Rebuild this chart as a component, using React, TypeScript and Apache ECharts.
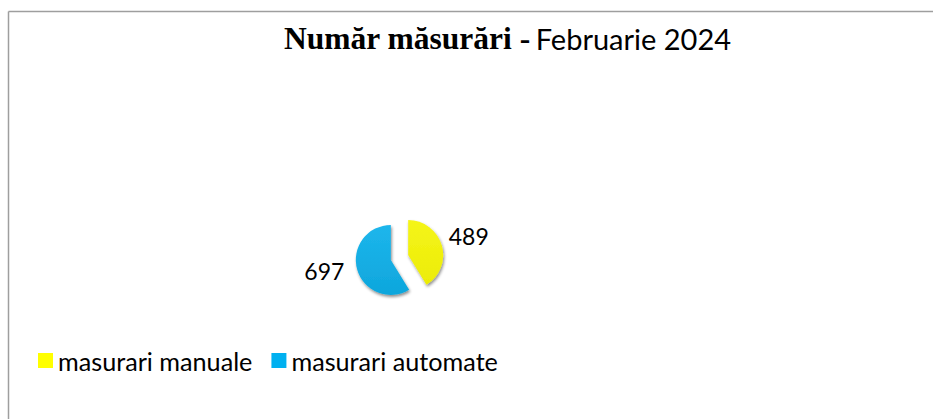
import React, { useEffect, useRef } from "react";
import * as echarts from "echarts";

const categories = ["masurari manuale", "masurari automate"];
const values = [489, 697];
const legendColors = ["#FFFF00", "#00B0F0"];
const titleBold = "Număr măsurări -";
const titleRest = "Februarie 2024";

export default function App() {
  const ref = useRef<HTMLDivElement>(null);
  useEffect(() => {
    if (!ref.current) return;
    const chart = echarts.init(ref.current, null, { renderer: "svg" });
    const gradients = [
      new echarts.graphic.LinearGradient(0, 0, 0, 1, [
        { offset: 0, color: "#F5F51A" },
        { offset: 1, color: "#ECEC05" },
      ]),
      new echarts.graphic.LinearGradient(0, 0, 0, 1, [
        { offset: 0, color: "#1DB6EC" },
        { offset: 1, color: "#0EA6DC" },
      ]),
    ];
    const labelFix = [
      { label: { formatter: "{c}\n", lineHeight: 17 }, labelLine: { length: 2, length2: 0 } },
      { label: {}, labelLine: {} },
    ];
    chart.setOption({
      animation: false,
      backgroundColor: "#ffffff",
      title: {
        left: 284,
        top: 22,
        padding: 0,
        text: `{a|${titleBold}} {b|${titleRest}}`,
        textStyle: {
          rich: {
            a: {
              fontFamily: "Liberation Serif",
              fontWeight: "bold",
              fontSize: 31.5,
              color: "#000",
            },
            b: {
              fontFamily: "Lato",
              fontWeight: "normal",
              fontSize: 29,
              color: "#000",
            },
          },
        },
      },
      legend: {
        left: 38,
        top: 348,
        padding: 0,
        itemWidth: 15,
        itemHeight: 15,
        itemGap: 19,
        icon: "rect",
        textStyle: { fontFamily: "Lato", fontSize: 25.2, color: "#000", padding: [0, 0, 0, 0] },
        data: categories.map((c, i) => ({ name: c, itemStyle: { color: legendColors[i] } })),
      },
      graphic: [
        {
          type: "line",
          shape: { x1: 8.5, y1: 11.5, x2: 933, y2: 11.5 },
          style: { stroke: "#9E9E9E", lineWidth: 1.5 },
        },
        {
          type: "line",
          shape: { x1: 8.5, y1: 11.5, x2: 8.5, y2: 419 },
          style: { stroke: "#9E9E9E", lineWidth: 1.5 },
        },
      ],
      series: [
        {
          type: "pie",
          center: [399.5, 257.5],
          radius: [0, 35],
          startAngle: 90,
          clockwise: true,
          selectedMode: "multiple",
          selectedOffset: 9,
          avoidLabelOverlap: false,
          label: {
            show: true,
            position: "outside",
            formatter: "{c}",
            fontFamily: "Lato",
            fontSize: 23,
            color: "#000",
          },
          labelLine: { show: false, length: 6, length2: 2 },
          itemStyle: {
            shadowBlur: 3,
            shadowColor: "rgba(0,0,0,0.45)",
            shadowOffsetX: 1,
            shadowOffsetY: 2,
          },
          emphasis: { disabled: true },
          data: categories.map((c, i) => ({
            name: c,
            value: values[i],
            selected: true,
            itemStyle: { color: gradients[i] },
            label: labelFix[i].label,
            labelLine: { show: false, ...labelFix[i].labelLine },
          })),
        },
      ],
    });
    return () => chart.dispose();
  }, []);
  return (
    <div
      ref={ref}
      style={{ position: "fixed", left: 0, top: 0, width: 933, height: 419 }}
    />
  );
}
